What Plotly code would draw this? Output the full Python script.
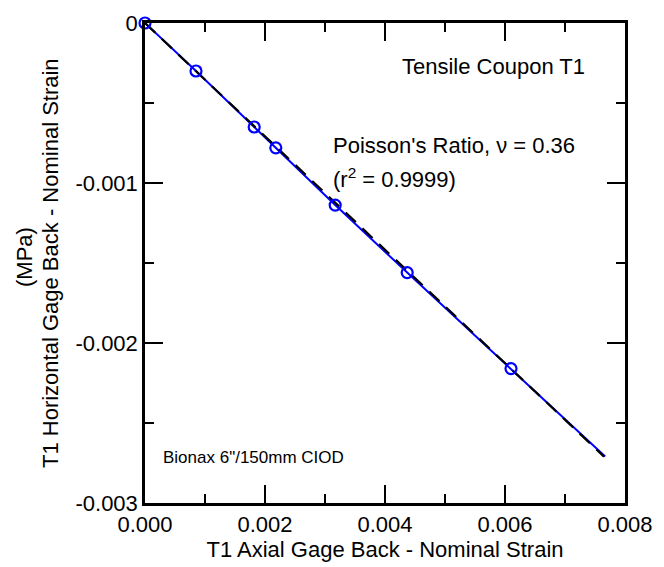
import plotly.graph_objects as go

# Data
axial_strain = [0.0, 0.00085, 0.00182, 0.00218, 0.00317, 0.00437, 0.0061, 0.00767]
horiz_strain = [0.0, -0.00030, -0.00065, -0.00078, -0.001138, -0.00156, -0.00216, -0.00271]
marker_x = [0.0, 0.00085, 0.00182, 0.00218, 0.00317, 0.00437, 0.0061]
marker_y = [0.0, -0.00030, -0.00065, -0.00078, -0.001138, -0.00156, -0.00216]
fit_x = [0.0, 0.00765]
fit_y = [0.0, -0.00271]

x_tickvals = [0.0, 0.002, 0.004, 0.006, 0.008]
x_ticktext = ["0.000", "0.002", "0.004", "0.006", "0.008"]
y_tickvals = [0.0, -0.001, -0.002, -0.003]
y_ticktext = ["0", "-0.001", "-0.002", "-0.003"]

FONT = "Arial, Liberation Sans, sans-serif"
FS = 22

fig = go.Figure()
fig.add_trace(go.Scatter(x=axial_strain, y=horiz_strain, mode="lines",
                         line=dict(color="#0000FF", width=2), showlegend=False))
fig.add_trace(go.Scatter(x=fit_x, y=fit_y, mode="lines",
                         line=dict(color="black", width=2.2, dash="14px,9px"), showlegend=False))
fig.add_trace(go.Scatter(x=marker_x, y=marker_y, mode="markers",
                         marker=dict(symbol="circle-open", size=11, color="#0000FF",
                                     line=dict(color="#0000FF", width=2.2)),
                         showlegend=False, cliponaxis=False))

axis_common = dict(showline=True, linecolor="black", linewidth=2.5, mirror="allticks",
                   ticks="inside", ticklen=18, tickwidth=2, tickcolor="black",
                   showgrid=False, zeroline=False,
                   tickfont=dict(family=FONT, size=FS, color="black"))

fig.update_xaxes(range=[0, 0.008], tickmode="array", tickvals=x_tickvals, ticktext=x_ticktext,
                 minor=dict(ticks="inside", ticklen=9, tickwidth=2, tickcolor="black", dtick=0.001),
                 title=dict(text="T1 Axial Gage Back - Nominal Strain",
                            font=dict(family=FONT, size=FS, color="black"), standoff=2),
                 **axis_common)
fig.update_yaxes(range=[-0.003, 0], tickmode="array", tickvals=y_tickvals, ticktext=y_ticktext,
                 minor=dict(ticks="inside", ticklen=9, tickwidth=2, tickcolor="black", dtick=0.0005),
                 **axis_common)

annotations = [
    dict(text="Tensile Coupon T1", x=0.921, y=0.910, xref="paper", yref="paper",
         xanchor="right", yanchor="middle", showarrow=False,
         font=dict(family=FONT, size=FS, color="black")),
    dict(text="Poisson's Ratio, ν = 0.36", x=0.0031, y=-0.000763, xref="x", yref="y",
         xanchor="left", yanchor="middle", showarrow=False,
         font=dict(family=FONT, size=FS, color="black")),
    dict(text="(r<sup>2</sup> = 0.9999)", x=0.0031, y=-0.000969, xref="x", yref="y",
         xanchor="left", yanchor="middle", showarrow=False,
         font=dict(family=FONT, size=FS, color="black")),
    dict(text="Bionax 6\"/150mm CIOD", x=0.000267, y=-0.0027125, xref="x", yref="y",
         xanchor="left", yanchor="middle", showarrow=False,
         font=dict(family=FONT, size=17, color="black")),
    dict(text="T1 Horizontal Gage Back - Nominal Strain", x=0, y=0.5, xref="paper", yref="paper",
         xanchor="center", yanchor="middle", xshift=-95, yshift=0, textangle=-90, showarrow=False,
         font=dict(family=FONT, size=FS, color="black")),
    dict(text="(MPa)", x=0, y=0.5, xref="paper", yref="paper",
         xanchor="center", yanchor="middle", xshift=-121, yshift=6, textangle=-90, showarrow=False,
         font=dict(family=FONT, size=FS, color="black")),
]

fig.update_layout(width=664, height=567, margin=dict(l=145, r=39, t=23, b=64),
                  plot_bgcolor="white", paper_bgcolor="white", annotations=annotations,
                  font=dict(family=FONT, color="black"))

fig.write_html("out.html")
